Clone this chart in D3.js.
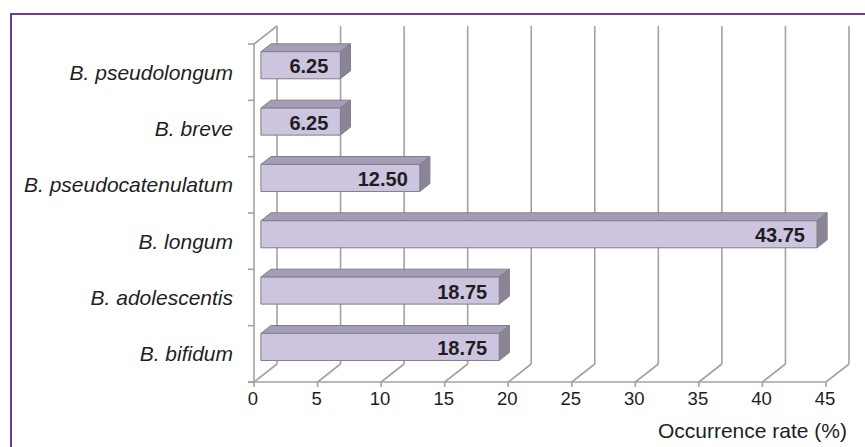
<!DOCTYPE html>
<html>
<head>
<meta charset="utf-8">
<script src="https://cdn.jsdelivr.net/npm/d3@7"></script>
<style>
  html, body { margin: 0; padding: 0; background: #fff; }
  svg { display: block; font-family: "Liberation Sans", Arial, sans-serif; }
</style>
</head>
<body>
<svg id="chart" width="865" height="447"></svg>
<script>
// Species (top to bottom) and their occurrence rates (%)
const categories = ["B. pseudolongum", "B. breve", "B. pseudocatenulatum", "B. longum", "B. adolescentis", "B. bifidum"];
const values = [6.25, 6.25, 12.50, 43.75, 18.75, 18.75];
const valueLabels = ["6.25", "6.25", "12.50", "43.75", "18.75", "18.75"];
const xTicks = [0, 5, 10, 15, 20, 25, 30, 35, 40, 45];
const xTitle = "Occurrence rate (%)";

const svg = d3.select("#chart");

// Outer frame
svg.append("rect")
  .attr("x", 11).attr("y", 14).attr("width", 880).attr("height", 460)
  .attr("fill", "none").attr("stroke", "#6a3d9a").attr("stroke-width", 2);

// Front plane geometry and 3-D depth offset
const x = d3.scaleLinear().domain([0, 45]).range([254, 826]);
const y = d3.scaleBand().domain(categories).range([44, 382])
  .paddingInner(0.52).paddingOuter(0.26);
const depthX = 23, depthY = -18;
const yTop = 44, yBottom = 382;
const gridColor = "#a2a2a2";

const grid = svg.append("g").attr("stroke", gridColor).attr("stroke-width", 1.6).attr("fill", "none");

// Back wall verticals
grid.selectAll("line.back").data(xTicks).join("line")
  .attr("x1", d => x(d) + depthX).attr("x2", d => x(d) + depthX)
  .attr("y1", yTop + depthY).attr("y2", yBottom + depthY);

// Floor depth lines
grid.selectAll("line.floor").data(xTicks).join("line")
  .attr("x1", d => x(d)).attr("y1", yBottom)
  .attr("x2", d => x(d) + depthX).attr("y2", yBottom + depthY);

// Left wall top edge
grid.append("line")
  .attr("x1", x(0)).attr("y1", yTop)
  .attr("x2", x(0) + depthX).attr("y2", yTop + depthY);

// Category axis (front left edge) with boundary ticks
grid.append("line").attr("x1", x(0)).attr("x2", x(0)).attr("y1", yTop).attr("y2", yBottom);
const bounds = d3.range(categories.length + 1).map(i => yTop + i * y.step());
grid.selectAll("line.ytick").data(bounds).join("line")
  .attr("x1", x(0) - 6).attr("x2", x(0)).attr("y1", d => d).attr("y2", d => d);

// Value axis (front bottom edge) with ticks
grid.append("line").attr("x1", x(0) - 6).attr("x2", x(45)).attr("y1", yBottom).attr("y2", yBottom);
grid.selectAll("line.xtick").data(xTicks).join("line")
  .attr("x1", d => x(d)).attr("x2", d => x(d)).attr("y1", yBottom).attr("y2", yBottom + 5);

// Bars drawn as boxes between two depth fractions
const t0 = 0.3, t1 = 0.74;
const fx = t0 * depthX, fy = t0 * depthY;
const bx = t1 * depthX, by = t1 * depthY;
const bars = svg.append("g").attr("stroke", "#808080").attr("stroke-width", 1).attr("stroke-linejoin", "round");

categories.forEach((c, i) => {
  const v = values[i];
  const xl = x(0), xr = x(v);
  const yt = y(c) - 1.5, yb = yt + y.bandwidth();
  // top face
  bars.append("polygon")
    .attr("points", [[xl + fx, yt + fy], [xr + fx, yt + fy], [xr + bx, yt + by], [xl + bx, yt + by]].join(" "))
    .attr("fill", "#a59db7");
  // side face
  bars.append("polygon")
    .attr("points", [[xr + fx, yt + fy], [xr + bx, yt + by], [xr + bx, yb + by], [xr + fx, yb + fy]].join(" "))
    .attr("fill", "#8b8499");
  // front face
  bars.append("rect")
    .attr("x", xl + fx).attr("y", yt + fy)
    .attr("width", xr - xl).attr("height", yb - yt)
    .attr("fill", "#cdc4df");
  // value label
  svg.append("text")
    .attr("x", xr + fx - 12).attr("y", (yt + yb) / 2 + fy + 1)
    .attr("text-anchor", "end").attr("dominant-baseline", "central")
    .attr("font-size", 20).attr("font-weight", "bold").attr("fill", "#1e1e1e")
    .text(valueLabels[i]);
});

// Category labels
svg.append("g").selectAll("text").data(categories).join("text")
  .attr("x", 233).attr("y", d => y(d) + y.bandwidth() / 2)
  .attr("text-anchor", "end").attr("dominant-baseline", "central")
  .attr("font-size", 21).attr("font-style", "italic").attr("fill", "#1e1e1e")
  .text(d => d);

// Value tick labels
svg.append("g").selectAll("text").data(xTicks).join("text")
  .attr("x", d => x(d) - 1).attr("y", 405)
  .attr("text-anchor", "middle")
  .attr("font-size", 18.5).attr("fill", "#1e1e1e")
  .text(d => d);

// Axis title
svg.append("text")
  .attr("x", 847).attr("y", 438).attr("text-anchor", "end")
  .attr("font-size", 21).attr("fill", "#1e1e1e")
  .text(xTitle);
</script>
</body>
</html>
